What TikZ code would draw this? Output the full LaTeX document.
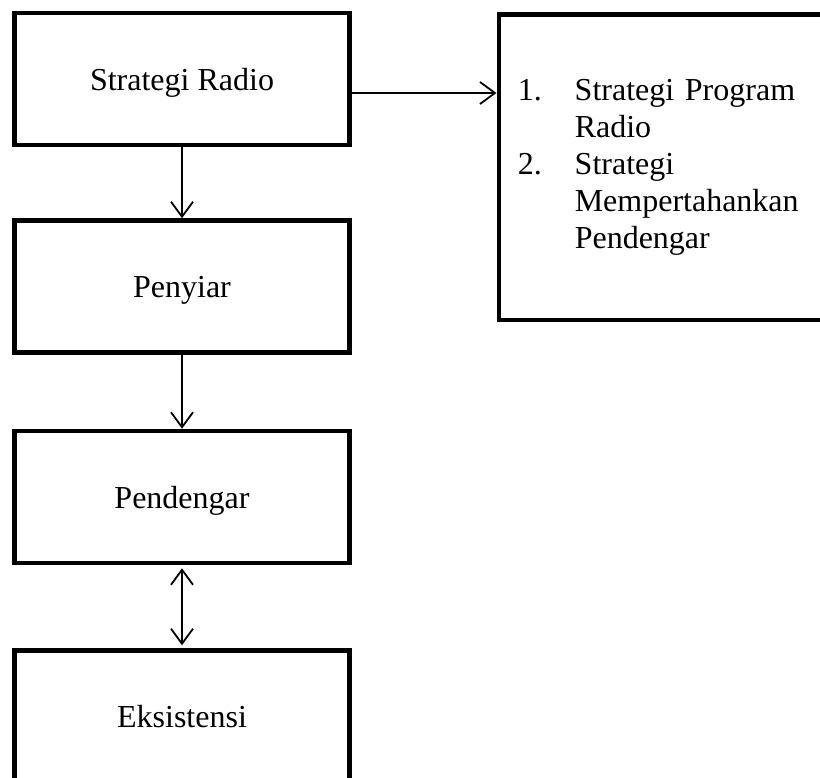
\documentclass[tikz,border=0pt]{standalone}
\usepackage{fontspec}
\setmainfont{Liberation Serif}
\usetikzlibrary{arrows.meta}

\begin{document}
\begin{tikzpicture}[x=1pt,y=-1pt]
		\tikzset{blok/.style = {shape=rectangle,draw,line width=4.5pt,minimum width=335pt,minimum height=132pt,text depth=0pt,font=\fontsize{32}{37}\selectfont}}
		\tikzset{panah/.style = {-{Straight Barb[length=15pt,width=22pt]},line width=1.8pt}}
		
		\useasboundingbox (0,0) rectangle (820,778);
		\clip (0,0) rectangle (820,778);
		
		\node[blok] (radio) at (182,79) {Strategi Radio};
		\node[blok] (penyiar) at (182,286.5) {Penyiar};
		\node[blok] (pendengar) at (182,497) {Pendengar};
		\node[blok] (eksistensi) at (182,716.5) {Eksistensi};
		
		\tikzset{blok/.style = {shape=rectangle,draw,line width=4.5pt,minimum height=305.5pt,text width=300pt,inner xsep=19pt,align=left,font=\fontsize{32}{37}\selectfont}}
		\node[blok,anchor=north west] (strategi) at (496.5,12.25) {%
			\begin{tabular}{@{}p{57pt}@{}l@{}}
				1. & Strategi Program\\
				   & Radio\\
				2. & Strategi\\
				   & Mempertahankan\\
				   & Pendengar
			\end{tabular}};
		
		\draw[panah] (radio) to (penyiar);
		\draw[panah] (penyiar) to (pendengar);
		\draw[panah,{Straight Barb[length=15pt,width=22pt]}-{Straight Barb[length=15pt,width=22pt]},shorten <=3pt,shorten >=3pt] (pendengar) to (eksistensi);
		\draw[panah] ([yshift=-14pt]radio.east) to ([yshift=-14pt]radio.east -| strategi.west);
\end{tikzpicture}
\end{document}
